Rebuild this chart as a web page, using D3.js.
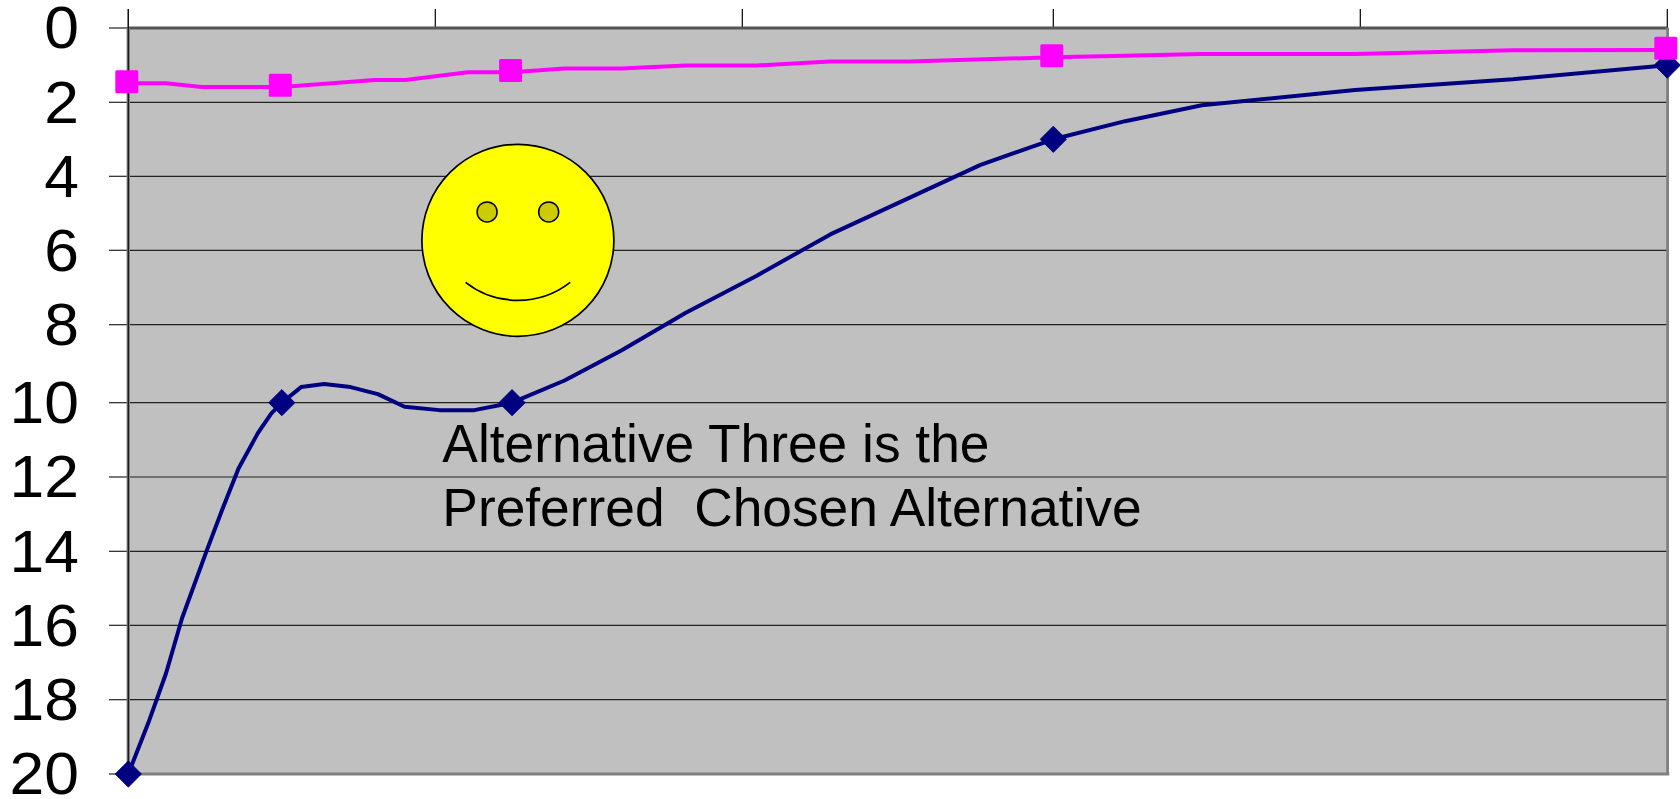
<!DOCTYPE html>
<html><head><meta charset="utf-8">
<script src="https://cdnjs.cloudflare.com/ajax/libs/d3/7.8.5/d3.min.js"></script>
<style>html,body{margin:0;padding:0;background:#fff;overflow:hidden}svg{display:block}
text{font-family:"Liberation Sans",Arial,sans-serif;fill:#000}</style></head><body>
<svg id="c" width="1680" height="799"></svg>
<script>
const xTicks=[0,10,20,30,40,50];
const yTicks=[0,2,4,6,8,10,12,14,16,18,20];
const blueX=[0,0.65,1.23,1.75,2.56,3.03,3.59,4.22,4.66,5,5.63,6.38,7.24,8.13,9,10.13,11.27,12.5,14.21,16.06,18.16,20.45,22.83,25.35,27.66,30,32.34,34.84,39.83,44.97,50];
const blueY=[20,18.63,17.29,15.81,13.97,12.94,11.77,10.82,10.29,10,9.6,9.52,9.6,9.78,10.11,10.2,10.2,10,9.43,8.66,7.68,6.69,5.57,4.59,3.69,3,2.51,2.08,1.67,1.38,1];
const pinkX=[0,1.23,2.39,5,8.03,9.03,11.06,12.5,14.21,16.06,18.16,20.45,22.83,25.35,30,32.34,34.84,39.83,44.97,50];
const pinkY=[1.49,1.49,1.59,1.59,1.4,1.4,1.19,1.19,1.09,1.09,1.01,1.01,0.9,0.9,0.79,0.75,0.7,0.7,0.6,0.59];
const markX=[0,5,12.5,30,50];
const blueMarkY=[20,10,10,3,1];
const pinkMarkY=[1.49,1.59,1.19,0.79,0.59];
const noteLines=["Alternative Three is the","Preferred  Chosen Alternative"];
const face={x:12.69,y:5.73};
const note={x:10.23,y:11.6};

// The reference's axes carry small steps, so the scales go tick by tick.
const xPos=[128.3,435.3,742.3,1053.3,1360.3,1667.3];
const yPos=[28,102.3,176.3,250.3,324.7,402.7,477,551.3,625.3,699.7,774];
const x=d3.scaleLinear().domain(xTicks).range(xPos);
const y=d3.scaleLinear().domain(yTicks).range(yPos);
const L=xPos[0],R=xPos[5],T=yPos[0],B=yPos[10];
const svg=d3.select("#c");

svg.append("rect").attr("x",L).attr("y",T).attr("width",R-L).attr("height",B-T).attr("fill","#c0c0c0");

// y axis ticks and labels
const gy=svg.append("g").attr("transform",`translate(${L},0)`)
 .call(d3.axisLeft(y).tickValues(yTicks).tickSize(19.3).tickPadding(30).offset(0));
gy.select(".domain").remove();
gy.selectAll(".tick line").attr("stroke","#222").attr("stroke-width",1.2);
gy.selectAll(".tick text").attr("font-size",60).attr("font-family",'"Liberation Sans"').attr("fill","#000")
  .attr("dy","0.34em").attr("x",0).attr("transform","translate(-49.3,0) scale(1.04,1)");
// gridlines
const grid=svg.append("g").attr("transform",`translate(${L},0)`)
 .call(d3.axisLeft(y).tickValues(yTicks.slice(1,-1)).tickSize(-(R-L)).tickFormat("").offset(0));
grid.select(".domain").remove();
grid.selectAll(".tick line").attr("stroke","#222").attr("stroke-width",1.2);

// x axis ticks (top, unlabelled)
const gx=svg.append("g").attr("transform",`translate(0,${T})`)
 .call(d3.axisTop(x).tickValues(xTicks).tickSize(19).tickFormat("").offset(0));
gx.select(".domain").remove();
gx.selectAll(".tick line").attr("stroke","#000").attr("stroke-width",1.2);

// frame
svg.append("line").attr("x1",L).attr("x2",R+1).attr("y1",T).attr("y2",T).attr("stroke","#555").attr("stroke-width",3);
svg.append("line").attr("x1",L).attr("x2",R+2).attr("y1",B).attr("y2",B).attr("stroke","#808080").attr("stroke-width",3);
svg.append("line").attr("x1",R+0.3).attr("x2",R+0.3).attr("y1",T).attr("y2",B).attr("stroke","#808080").attr("stroke-width",2.8);
svg.append("line").attr("x1",L).attr("x2",L).attr("y1",T).attr("y2",B).attr("stroke","#808080").attr("stroke-width",3.4);
svg.append("line").attr("x1",L).attr("x2",L).attr("y1",9).attr("y2",B).attr("stroke","#111").attr("stroke-width",1.2);

// smiley
const f=svg.append("g").attr("transform",`translate(${x(face.x)},${y(face.y)})`);
f.append("circle").attr("r",96).attr("fill","#ffff00").attr("stroke","#000").attr("stroke-width",1.7);
[-30.8,30.8].forEach(dx=>f.append("circle").attr("cx",dx).attr("cy",-28.4).attr("r",10).attr("fill","#cccc00").attr("stroke","#000").attr("stroke-width",1.5));
f.append("path").attr("d","M-52.3,42 A85,85 0 0 0 52.3,42").attr("fill","none").attr("stroke","#000").attr("stroke-width",1.7);

// series
const lineGen=d3.line().x(d=>x(d[0])).y(d=>y(d[1]));
svg.append("path").datum(d3.zip(blueX,blueY)).attr("d",lineGen).attr("fill","none").attr("stroke","#000080").attr("stroke-width",4).attr("stroke-linejoin","round");
svg.append("g").selectAll("path").data(d3.zip(markX,blueMarkY)).join("path")
 .attr("transform",d=>`translate(${x(d[0])},${y(d[1])}) rotate(45)`)
 .attr("d",d3.symbol(d3.symbolSquare,345)).attr("fill","#000080").attr("stroke","#000080").attr("stroke-width",0.8).attr("stroke-linejoin","round");
svg.append("path").datum(d3.zip(pinkX,pinkY)).attr("d",lineGen).attr("fill","none").attr("stroke","#ff00ff").attr("stroke-width",4).attr("stroke-linejoin","round");
svg.append("g").selectAll("rect").data(d3.zip(markX,pinkMarkY)).join("rect")
 .attr("x",d=>x(d[0])-13).attr("y",d=>y(d[1])-13.2).attr("width",23).attr("height",23).attr("rx",1.5).attr("fill","#ff00ff");

// note
svg.append("g").selectAll("text").data(noteLines).join("text")
 .attr("x",x(note.x)).attr("y",(d,i)=>y(note.y)+i*63.7).attr("font-size",53.3).attr("xml:space","preserve").style("white-space","pre").text(d=>d);
</script></body></html>
